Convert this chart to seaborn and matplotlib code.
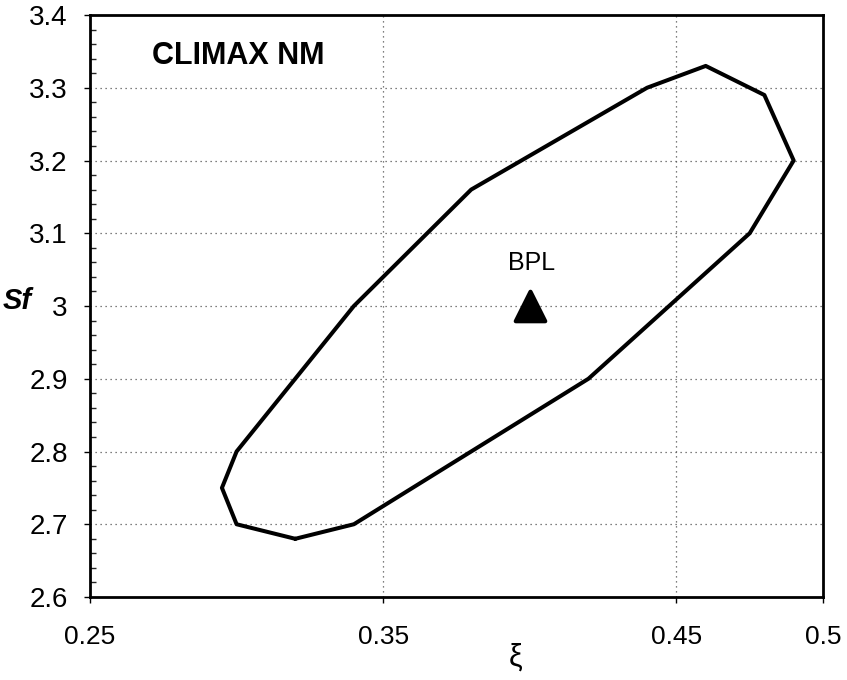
import matplotlib
matplotlib.use("Agg")
import matplotlib.pyplot as plt
import seaborn as sns
import numpy as np
import pandas as pd

# Data
xi_contour = [0.32, 0.30, 0.295, 0.30, 0.34, 0.38, 0.44, 0.46, 0.48, 0.49, 0.475, 0.42, 0.34, 0.32]
sf_contour = [2.68, 2.70, 2.75, 2.80, 3.00, 3.16, 3.30, 3.33, 3.29, 3.20, 3.10, 2.90, 2.70, 2.68]
bpl_xi = [0.40]
bpl_sf = [3.00]
bpl_label = "BPL"
title_text = "CLIMAX NM"
x_ticks = [0.25, 0.35, 0.45, 0.5]
x_ticklabels = ["0.25", "0.35", "0.45", "0.5"]
y_ticks = [2.6, 2.7, 2.8, 2.9, 3.0, 3.1, 3.2, 3.3, 3.4]
y_ticklabels = ["2.6", "2.7", "2.8", "2.9", "3", "3.1", "3.2", "3.3", "3.4"]
x_grid = [0.35, 0.45]
y_grid = [2.7, 2.8, 2.9, 3.0, 3.1, 3.2, 3.3]

sns.set_theme(style="white")
plt.rcParams["font.family"] = ["Liberation Sans", "DejaVu Sans"]

fig = plt.figure(figsize=(8.47, 6.8), dpi=100)
ax = fig.add_axes([90/847, 1-597/680, 733/847, 582/680])

df = pd.DataFrame({"xi": xi_contour, "sf": sf_contour})
sns.lineplot(data=df, x="xi", y="sf", sort=False, estimator=None, color="black",
             linewidth=2.9, ax=ax)
for l in ax.lines:
    l.set_solid_joinstyle("round")

pts = pd.DataFrame({"xi": bpl_xi, "sf": bpl_sf})
sns.scatterplot(data=pts, x="xi", y="sf", marker="^", s=450, color="black",
                edgecolor="black", linewidth=3, ax=ax, zorder=5)
for c in ax.collections:
    c.set_joinstyle("round")

ax.annotate(bpl_label, xy=(bpl_xi[0], bpl_sf[0]), xytext=(1, 31), textcoords="offset points",
            ha="center", va="center", fontsize=18, color="black")

ax.text((152-90)/733, 1-(56-15)/582, title_text, transform=ax.transAxes,
        fontsize=22, fontweight="bold", ha="left", va="center", color="black")

# grid
for gx in x_grid:
    ax.axvline(gx, color="#555555", linestyle=(0, (1, 3)), linewidth=0.9, zorder=0)
for gy in y_grid:
    ax.axhline(gy, color="#555555", linestyle=(0, (1, 3)), linewidth=0.9, zorder=0)

ax.set_xlim(0.25, 0.5)
ax.set_ylim(2.6, 3.4)
ax.set_xticks(x_ticks)
ax.set_xticklabels(x_ticklabels)
ax.set_yticks(y_ticks)
ax.set_yticklabels(y_ticklabels)
ax.set_yticks(np.arange(2.6, 3.4001, 0.02), minor=True)
ax.tick_params(axis="x", which="major", direction="out", length=4, width=1, pad=16,
               labelsize=19, colors="black", bottom=True)
ax.tick_params(axis="y", which="major", direction="out", length=4, width=1, pad=12,
               labelsize=20, colors="black", left=True)
ax.tick_params(axis="y", which="minor", direction="in", length=4, width=1, left=True)

ax.set_xlabel("ξ", fontsize=22, color="black")
ax.xaxis.set_label_coords((516-90)/733, -(658-597)/582)
ax.xaxis.label.set_va("center")
ax.set_ylabel("Sf", fontsize=21, fontweight="bold", fontstyle="italic",
              rotation=0, color="black")
ax.yaxis.set_label_coords((17-90)/733, 0.5 + 5/582)
ax.yaxis.label.set_ha("center")
ax.yaxis.label.set_va("center")

for s in ax.spines.values():
    s.set_color("black")
    s.set_linewidth(2.0)
    s.set_visible(True)

fig.savefig("out.png", dpi=100, facecolor="white")
